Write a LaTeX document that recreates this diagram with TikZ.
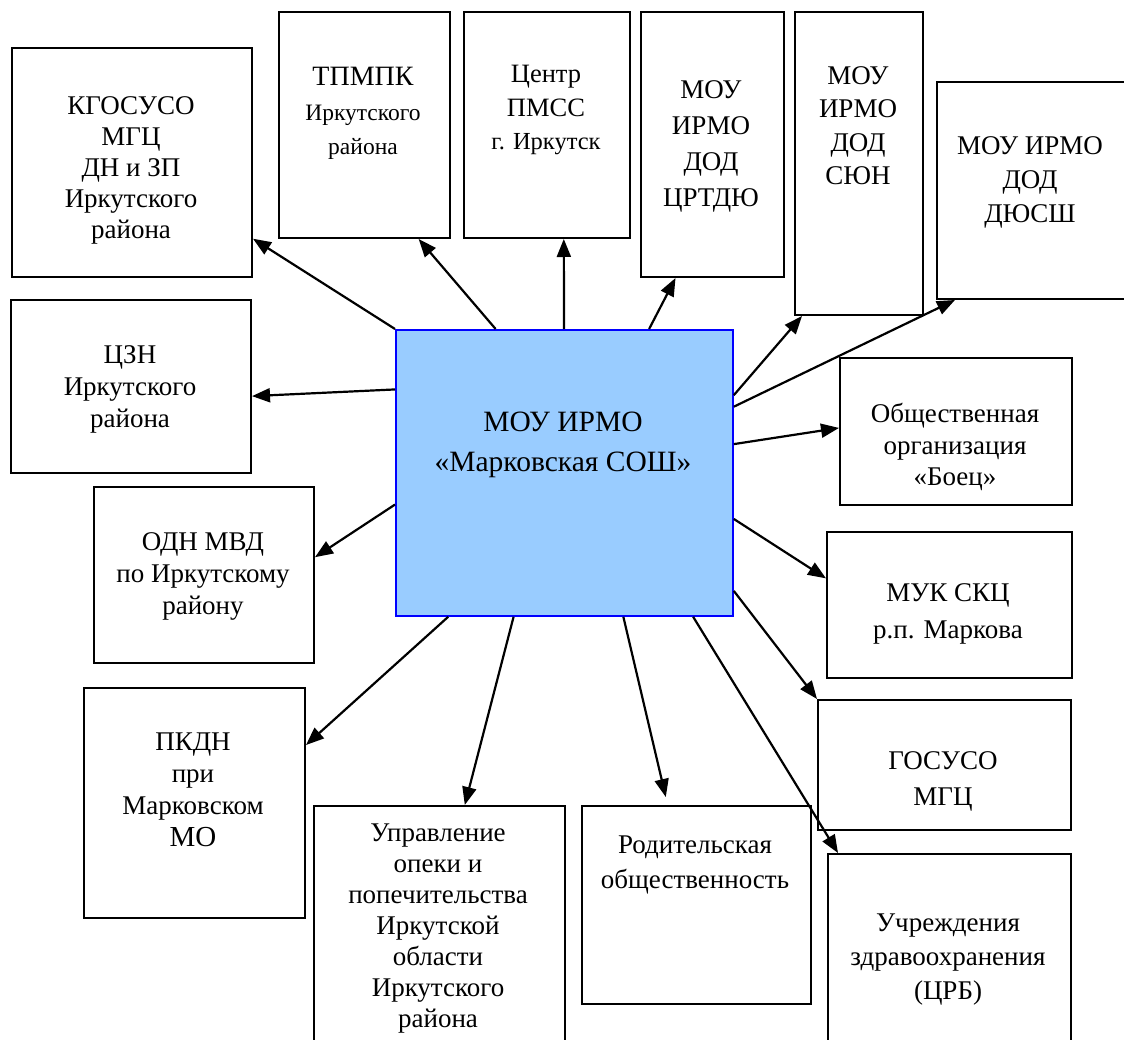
\documentclass[tikz,border=0pt]{standalone}
\usepackage{fontspec}
\setmainfont{Liberation Serif}
\usetikzlibrary{arrows.meta,calc}
\definecolor{mainfill}{RGB}{153,204,255}
\definecolor{mainline}{RGB}{0,0,255}
\newcommand\smtext{\fontsize{23.5}{33}\selectfont}
\newcommand\midtext{\fontsize{24.5}{33}\selectfont}
\begin{document}
\begin{tikzpicture}[x=1pt,y=-1pt,
  box/.style={draw=black, line width=2pt, inner sep=0pt, anchor=north west},
  txt/.style={align=center, anchor=north, inner sep=0pt, font=\fontsize{27}{31}\selectfont},
  con/.style={draw=black, line width=2.2pt, -{Triangle[length=18pt,width=14pt]}}
]
\useasboundingbox[fill=white] (0,0) rectangle (1124,1040);

% boxes
\node[box, minimum width=240pt, minimum height=229pt] (kgo) at (11,47) {};
\node[box, minimum width=171pt, minimum height=226pt] (tpm) at (278,11) {};
\node[box, minimum width=166pt, minimum height=226pt] (pms) at (463,11) {};
\node[box, minimum width=143pt, minimum height=265pt] (crt) at (640,11) {};
\node[box, minimum width=128pt, minimum height=303pt] (sun) at (794,11) {};
\node[box, minimum width=200pt, minimum height=217pt] (dus) at (936,81) {};
\node[box, minimum width=240pt, minimum height=173pt] (czn) at (10,299) {};
\node[box, minimum width=220pt, minimum height=176pt] (odn) at (93,486) {};
\node[box, minimum width=221pt, minimum height=230pt] (pkd) at (83,687) {};
\node[box, minimum width=251pt, minimum height=250pt] (upr) at (313,805) {};
\node[box, minimum width=229pt, minimum height=198pt] (rod) at (581,805) {};
\node[box, minimum width=243pt, minimum height=200pt] (uch) at (827,853) {};
\node[box, minimum width=253pt, minimum height=130pt] (gos) at (817,699) {};
\node[box, minimum width=245pt, minimum height=146pt] (muk) at (826,531) {};
\node[box, minimum width=232pt, minimum height=147pt] (obs) at (839,357) {};
\node[box, draw=mainline, fill=mainfill, line width=1.8pt, minimum width=337pt, minimum height=286pt] (main) at (395,329) {};

% texts
\node[txt] (kgoT) at (131,96) {КГОСУСО\\МГЦ\\ДН и ЗП\\Иркутского\\района};
\node[txt, font=\fontsize{28}{34.5}\selectfont] (tpmT) at (363,67) {ТПМПК\\{\smtext Иркутского}\\{\smtext района}};
\node[txt, font=\fontsize{26.5}{33.5}\selectfont] (pmsT) at (546,65) {Центр\\ПМСС\\{\midtext г. Иркутск}};
\node[txt, font=\fontsize{27}{36}\selectfont] (crtT) at (711,80) {МОУ\\ИРМО\\ДОД\\ЦРТДЮ};
\node[txt, font=\fontsize{27}{33.5}\selectfont] (sunT) at (858,66) {МОУ\\ИРМО\\ДОД\\СЮН};
\node[txt, font=\fontsize{27}{34}\selectfont] (dusT) at (1030,136) {МОУ ИРМО\\ДОД\\ДЮСШ};
\node[txt, font=\fontsize{27}{32}\selectfont] (cznT) at (130,345) {ЦЗН\\Иркутского\\района};
\node[txt, font=\fontsize{27}{32}\selectfont] (odnT) at (203,532) {ОДН МВД\\по Иркутскому\\району};
\node[txt, font=\fontsize{27}{32}\selectfont] (pkdT) at (193,733) {ПКДН\\при\\Марковском\\{\fontsize{29}{32}\selectfont МО}};
\node[txt] (uprT) at (438,824) {Управление\\опеки и\\попечительства\\Иркутской\\области\\Иркутского\\района};
\node[txt, font=\fontsize{27}{35}\selectfont] (rodT) at (695,836) {Родительская\\общественность};
\node[txt, font=\fontsize{27}{34}\selectfont] (uchT) at (948,914) {Учреждения\\здравоохранения\\(ЦРБ)};
\node[txt, font=\fontsize{27}{36}\selectfont] (gosT) at (943,751) {ГОСУСО\\МГЦ};
\node[txt, font=\fontsize{27}{37}\selectfont] (mukT) at (948,583) {МУК СКЦ\\р.п. Маркова};
\node[txt, font=\fontsize{27}{31.5}\selectfont] (obsT) at (955,403) {Общественная\\организация\\«Боец»};
\node[txt, font=\fontsize{29.5}{40}\selectfont] (mainT) at (563,412) {МОУ ИРМО\\«Марковская СОШ»};

% connectors
\draw[con] (main.north west) -- ($(kgo.north east)!0.83!(kgo.south east)$);
\draw[con] ($(main.north west)!0.297!(main.north east)$) -- ($(tpm.south west)!0.813!(tpm.south east)$);
\draw[con] ($(main.north west)!0.499!(main.north east)$) -- ($(pms.south west)!0.60!(pms.south east)$);
\draw[con] ($(main.north west)!0.75!(main.north east)$) -- ($(crt.south west)!0.245!(crt.south east)$);
\draw[con] ($(main.north east)!0.23!(main.south east)$) -- ($(sun.south west)+(8,0)$);
\draw[con] ($(main.north east)!0.27!(main.south east)$) -- ($(dus.south west)+(19,0)$);
\draw[con] ($(main.north east)!0.40!(main.south east)$) -- ($(obs.north west)!0.476!(obs.south west)$);
\draw[con] ($(main.north west)!0.21!(main.south west)$) -- ($(czn.north east)!0.555!(czn.south east)$);
\draw[con] ($(main.north west)!0.61!(main.south west)$) -- ($(odn.north east)!0.40!(odn.south east)$);
\draw[con] ($(main.north east)!0.66!(main.south east)$) -- ($(muk.north west)!0.32!(muk.south west)$);
\draw[con] ($(main.north east)!0.91!(main.south east)$) -- (gos.north west);
\draw[con] ($(main.south west)!0.157!(main.south east)$) -- ($(pkd.north east)!0.25!(pkd.south east)$);
\draw[con] ($(main.south west)!0.35!(main.south east)$) -- ($(upr.north west)!0.60!(upr.north east)$);
\draw[con] ($(main.south west)!0.674!(main.south east)$) -- ($(rod.north west)!0.367!(rod.north east)+(0,-8)$);
\draw[con] ($(main.south west)!0.88!(main.south east)$) -- ($(uch.north west)+(11,0)$);
\end{tikzpicture}
\end{document}
